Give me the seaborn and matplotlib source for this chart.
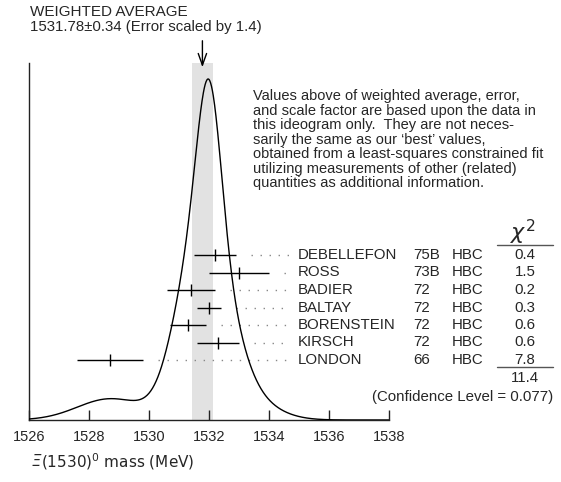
import numpy as np
import pandas as pd
import matplotlib
matplotlib.use("Agg")
import matplotlib.pyplot as plt
import matplotlib.transforms as mtransforms
import seaborn as sns

# Measurements (MeV)
names = ["DEBELLEFON", "ROSS", "BADIER", "BALTAY", "BORENSTEIN", "KIRSCH", "LONDON"]
years = ["75B", "73B", "72", "72", "72", "72", "66"]
techs = ["HBC"] * 7
values = [1532.2, 1533.0, 1531.4, 1532.0, 1531.3, 1532.3, 1528.7]
errors = [0.7, 1.0, 0.8, 0.4, 0.6, 0.7, 1.1]
chi2 = ["0.4", "1.5", "0.2", "0.3", "0.6", "0.6", "7.8"]
chi2_total = "11.4"
conf_level = "(Confidence Level = 0.077)"
avg, avg_err, scale = 1531.78, 0.34, 1.4

note_lines = [
    "Values above of weighted average, error,",
    "and scale factor are based upon the data in",
    "this ideogram only.  They are not neces-",
    "sarily the same as our \u2018best\u2019 values,",
    "obtained from a least-squares constrained fit",
    "utilizing measurements of other (related)",
    "quantities as additional information.",
]

sns.set_theme(style="white")
plt.rcParams["font.family"] = ["Liberation Sans", "DejaVu Sans"]
plt.rcParams["mathtext.fontset"] = "dejavusans"

W, H = 561, 482
fig = plt.figure(figsize=(W / 100, H / 100), dpi=100)
ax = fig.add_axes([29.3 / W, 1 - 420 / H, (388.7 - 29.3) / W, 357 / H])

# ideogram: sum of gaussians, area proportional to 1/sigma
xs = np.linspace(1526, 1538, 800)
ideo = np.zeros_like(xs)
for v, e in zip(values, errors):
    ideo += (1 / e) * np.exp(-0.5 * ((xs - v) / e) ** 2) / (e * np.sqrt(2 * np.pi))
ideo = ideo / ideo.max() * 341
curve = pd.DataFrame({"mass": xs, "ideogram": ideo})

ax.axvspan(avg - avg_err, avg + avg_err, color="#e2e2e2", lw=0, zorder=0)
sns.lineplot(data=curve, x="mass", y="ideogram", ax=ax, color="black", lw=1.0, zorder=3)

row_y = [165 - 17.5 * i for i in range(len(values))]
for v, e, y in zip(values, errors, row_y):
    ax.plot([v + e + 0.5, 1534.7], [y, y], color="#888888", lw=1.0,
            linestyle=(0, (1, 5.5)), zorder=2, clip_on=False)
ax.errorbar(values, row_y, xerr=errors, fmt="|", color="black", ms=8, mew=1,
            elinewidth=1, capsize=0, zorder=4)

ax.set_xlim(1526, 1538)
ax.set_ylim(0, 357)
ax.set_xticks(np.arange(1526, 1539, 2))
ax.set_yticks([])
ax.set_xlabel("")
ax.set_ylabel("")
for s in ["top", "right"]:
    ax.spines[s].set_visible(False)
for s in ["left", "bottom"]:
    ax.spines[s].set_color("#222222")
    ax.spines[s].set_linewidth(1.0)
ax.tick_params(axis="x", direction="in", length=7.5, width=1, color="#222222",
               labelsize=10.5, pad=7, bottom=True)

# weighted average arrow
ax.annotate("", xy=(avg, 420 - 70), xytext=(avg, 420 - 38), annotation_clip=False,
            arrowprops=dict(arrowstyle="->,head_length=0.7,head_width=0.25", color="black", lw=1))

fig.text(30 / W, 1 - 12 / H, "WEIGHTED AVERAGE", fontsize=11, va="center", ha="left")
fig.text(30 / W, 1 - 27 / H, f"{avg:.2f}\u00b1{avg_err:.2f} (Error scaled by {scale})",
         fontsize=10.8, va="center", ha="left")

for i, line in enumerate(note_lines):
    fig.text(253 / W, 1 - (96 + 14.5 * i) / H, line, fontsize=10.5, va="center", ha="left")

tr = mtransforms.blended_transform_factory(fig.transFigure, ax.transData)
for n, yr, t, c, y in zip(names, years, techs, chi2, row_y):
    ax.text(298 / W, y, n, transform=tr, fontsize=10.8, va="center", ha="left")
    ax.text(413 / W, y, yr, transform=tr, fontsize=10.8, va="center", ha="left")
    ax.text(452 / W, y, t, transform=tr, fontsize=10.8, va="center", ha="left")
    ax.text(525 / W, y, c, transform=tr, fontsize=10.8, va="center", ha="center")

ax.text(523 / W, 420 - 247, r"$\chi^2$", transform=tr, fontsize=16, va="bottom", ha="center")
ax.plot([497 / W, 553 / W], [420 - 245, 420 - 245], transform=tr, color="#555555", lw=1, clip_on=False)
ax.plot([497 / W, 553 / W], [420 - 367, 420 - 367], transform=tr, color="#555555", lw=1, clip_on=False)
ax.text(525 / W, 420 - 378, chi2_total, transform=tr, fontsize=10.8, va="center", ha="center")
ax.text(553 / W, 420 - 397, conf_level, transform=tr, fontsize=10.8, va="center", ha="right")

fig.text(32 / W, 1 - 462 / H, "\u039e", fontsize=11, family="DejaVu Sans",
         style="italic", va="center", ha="left")
fig.text(41 / W, 1 - 462 / H, "(1530)$^0$ mass (MeV)", fontsize=11,
         family="DejaVu Sans", va="center", ha="left")

fig.savefig("out.png", dpi=100)
